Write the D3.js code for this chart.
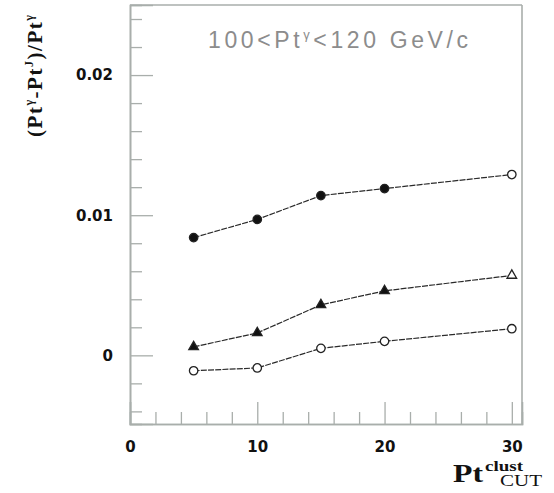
<!DOCTYPE html>
<html>
<head>
<meta charset="utf-8">
<script src="https://cdn.jsdelivr.net/npm/d3@7"></script>
<style>
  html, body { margin: 0; padding: 0; background: #fff; }
  svg { display: block; }
</style>
</head>
<body>
<svg id="chart" width="554" height="493"></svg>
<script>
// ---- data ----
const ptCut = [5, 10, 15, 20, 30];
const seriesTop = [0.0084, 0.0097, 0.0114, 0.0119, 0.0129];
const seriesMid = [0.0006, 0.0016, 0.0036, 0.0046, 0.0057];
const seriesLow = [-0.0011, -0.0009, 0.0005, 0.0010, 0.0019];
const xMajorTicks = [0, 10, 20, 30];
const yMajorTicks = [0, 0.01, 0.02];
const yTickLabels = ["0", "0.01", "0.02"];

(function () {
const svg = d3.select("#chart");
const mLeft = 130, mRight = 522, mTop = 5, mBottom = 424;

const x = d3.scaleLinear().domain([0, 30.8]).range([mLeft, mRight]);
const y = d3.scaleLinear().domain([-0.0049, 0.025]).range([mBottom, mTop]);

const axisColor = "#a9aeab";

// minor ticks
const xMinor = d3.range(2, 31, 2).filter(v => v % 10 !== 0);
const yMinor = d3.range(-4, 25, 2).filter(v => v % 10 !== 0).map(v => v / 1000);

function styleAxis(g) {
  g.select(".domain").attr("stroke", axisColor).attr("stroke-width", 1.6);
  g.selectAll(".tick line").attr("stroke", axisColor).attr("stroke-width", 1.3);
}

// x minor
svg.append("g").attr("transform", `translate(0,${mBottom})`)
  .call(d3.axisBottom(x).tickValues(xMinor).tickSize(-12).tickFormat(""))
  .call(styleAxis);
// x major
const gxM = svg.append("g").attr("transform", `translate(0,${mBottom})`)
  .call(d3.axisBottom(x).tickValues(xMajorTicks).tickSize(-22).tickFormat(d3.format("d")))
  .call(styleAxis);
gxM.selectAll(".tick text")
  .attr("font-family", "DejaVu Sans").attr("font-weight", "bold").attr("font-size", 15)
  .attr("fill", "#111").attr("dy", "0").attr("y", 28);

// y minor
svg.append("g").attr("transform", `translate(${mLeft},0)`)
  .call(d3.axisLeft(y).tickValues(yMinor).tickSize(-12).tickFormat(""))
  .call(styleAxis);
// y major
const gyM = svg.append("g").attr("transform", `translate(${mLeft},0)`)
  .call(d3.axisLeft(y).tickValues(yMajorTicks).tickSize(-23).tickFormat((d, i) => yTickLabels[i]))
  .call(styleAxis);
gyM.selectAll(".tick text")
  .attr("font-family", "DejaVu Sans").attr("font-weight", "bold").attr("font-size", 15)
  .attr("fill", "#111").attr("x", -17);

// frame top & right
svg.append("line").attr("x1", mLeft).attr("x2", mRight).attr("y1", mTop).attr("y2", mTop)
  .attr("stroke", axisColor).attr("stroke-width", 1.6);
svg.append("line").attr("x1", mRight).attr("x2", mRight).attr("y1", mTop).attr("y2", mBottom)
  .attr("stroke", axisColor).attr("stroke-width", 1.6);

// series
const series = [
  { values: seriesTop, symbol: d3.symbolCircle, size: 56, fill: "#111", openLast: true },
  { values: seriesMid, symbol: d3.symbolTriangle, size: 40, fill: "#111", openLast: true },
  { values: seriesLow, symbol: d3.symbolCircle, size: 56, fill: "#fff", openLast: false }
];

const line = d3.line().x(d => x(d[0])).y(d => y(d[1]));

series.forEach(s => {
  const pts = ptCut.map((p, i) => [p, s.values[i]]);
  svg.append("path").datum(pts).attr("d", line)
    .attr("fill", "none").attr("stroke", "#2a2a2a").attr("stroke-width", 1.2)
    .attr("stroke-dasharray", "6,1.2");
  svg.selectAll(null).data(pts).enter().append("path")
    .attr("d", d3.symbol().type(s.symbol).size(s.size))
    .attr("transform", d => `translate(${x(d[0])},${y(d[1])})`)
    .attr("fill", (d, i) => (s.openLast && i === pts.length - 1) ? "#fff" : s.fill)
    .attr("stroke", "#222").attr("stroke-width", 1.3);
});

// title text inside frame
const title = svg.append("text").attr("x", 208).attr("y", 48)
  .attr("font-family", "Liberation Sans").attr("font-size", 23)
  .attr("fill", "#8c8c8c").attr("textLength", 260).attr("lengthAdjust", "spacing");
title.append("tspan").text("100<Pt");
title.append("tspan").attr("font-size", 13).attr("dy", -9).text("γ");
title.append("tspan").attr("dy", 9).text("<120 GeV/c");

// y axis label (rotated)
const yl = svg.append("text")
  .attr("transform", "translate(42,137) rotate(-90)")
  .attr("font-family", "Liberation Serif").attr("font-weight", "bold").attr("font-size", 21)
  .attr("fill", "#111").attr("textLength", 122).attr("lengthAdjust", "spacing");
yl.append("tspan").text("(Pt");
yl.append("tspan").attr("font-size", 12).attr("dy", -9).text("γ");
yl.append("tspan").attr("dy", 9).text("-Pt");
yl.append("tspan").attr("font-size", 12).attr("dy", -9).text("J");
yl.append("tspan").attr("dy", 9).text(")/Pt");
yl.append("tspan").attr("font-size", 12).attr("dy", -9).text("γ");

// x axis label
svg.append("text").attr("x", 453).attr("y", 482)
  .attr("font-family", "Liberation Serif").attr("font-weight", "bold").attr("font-size", 26)
  .attr("fill", "#111").attr("textLength", 30).attr("lengthAdjust", "spacingAndGlyphs").text("Pt");
svg.append("text").attr("x", 485).attr("y", 471)
  .attr("font-family", "Liberation Serif").attr("font-weight", "bold").attr("font-size", 15)
  .attr("fill", "#111").attr("textLength", 38).attr("lengthAdjust", "spacingAndGlyphs").text("clust");
svg.append("text").attr("x", 500).attr("y", 486)
  .attr("font-family", "Liberation Serif").attr("font-size", 16)
  .attr("fill", "#111").attr("textLength", 42).attr("lengthAdjust", "spacingAndGlyphs").text("CUT");
})();
</script>
</body>
</html>
